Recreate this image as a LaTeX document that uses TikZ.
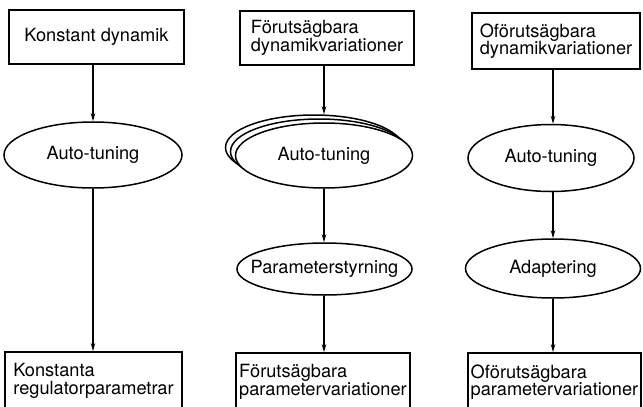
\documentclass[tikz,border=0pt]{standalone}
\usepackage{fontspec}
\setmainfont{TeX Gyre Heros}
\usetikzlibrary{shapes.geometric,arrows.meta}
\begin{document}
\begin{tikzpicture}[x=1pt,y=-1pt,
  every node/.style={font=\fontsize{18.2}{17.5}\selectfont},
  box/.style={draw,line width=1.7pt,rectangle,align=left,inner sep=0pt,fill=white},
  oval/.style={draw,line width=1.5pt,ellipse,inner sep=0pt,fill=white},
  arr/.style={line width=1.2pt,-{Stealth[length=8pt,width=4.5pt]}}]
\useasboundingbox (0,0) rectangle (643,407);
\clip (0,0) rectangle (643,407);
% column 1
\node[box,minimum width=175pt,minimum height=54pt] (A1) at (96.5,37) {Konstant dynamik};
\node[oval,minimum width=178pt,minimum height=66pt] (B1) at (93,155) {\makebox[0pt]{Auto-tuning}};
\node[box,minimum width=177pt,minimum height=58pt] (D1) at (93.5,381) {Konstanta\\regulatorparametrar};
% column 2
\node[box,minimum width=174pt,minimum height=54pt] (A2) at (327,38) {Förutsägbara\\dynamikvariationer};
\node[oval,minimum width=177pt,minimum height=65pt] (B2c) at (314,147.5) {};
\node[oval,minimum width=177pt,minimum height=65pt] (B2b) at (319,151.5) {};
\node[oval,minimum width=177pt,minimum height=65pt] (B2) at (324,155.5) {\makebox[0pt]{Auto-tuning}};
\node[oval,minimum width=175pt,minimum height=52pt] (C2) at (324.5,269) {\makebox[0pt]{Parameterstyrning}};
\node[box,minimum width=174pt,minimum height=58pt] (D2) at (323,382) {Förutsägbara\\parametervariationer};
% column 3
\node[box,minimum width=168pt,minimum height=56pt] (A3) at (556,41) {Oförutsägbara\\dynamikvariationer};
\node[oval,minimum width=166pt,minimum height=67pt] (B3) at (551,158) {\makebox[0pt]{Auto-tuning}};
\node[oval,minimum width=175pt,minimum height=59pt] (C3) at (553,268.5) {\makebox[0pt]{Adaptering}};
\node[box,minimum width=173pt,minimum height=58pt] (D3) at (554.5,382) {Oförutsägbara\\parametervariationer};
% connectors
\draw[arr] (A1.south -| B1.north) -- (B1.north);
\draw[arr] (B1.south) -- (B1.south |- D1.north);
\draw[arr] (A2.south -| B2.north) -- (B2.north |- B2c.north);
\draw[arr] (B2.south) -- (B2.south |- C2.north);
\draw[arr] (C2.south -| B2.south) -- (B2.south |- D2.north);
\draw[arr] (A3.south -| C3.north) -- (B3.north -| C3.north);
\draw[arr] (B3.south -| C3.north) -- (C3.north);
\draw[arr] (C3.south) -- (C3.south |- D3.north);
\end{tikzpicture}
\end{document}
